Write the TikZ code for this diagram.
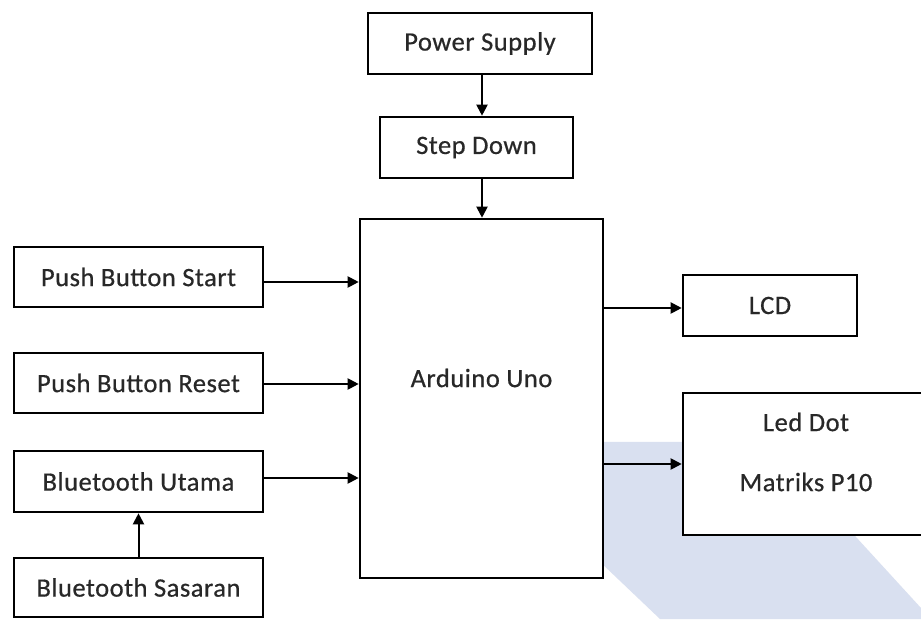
\documentclass[tikz,border=0pt]{standalone}
\usepackage{fontspec}
\setmainfont{Carlito}
\newfontfamily\boxfont{Carlito}[FakeBold=0.6,LetterSpace=2]
\usetikzlibrary{arrows.meta}
\definecolor{wm}{RGB}{217,224,240}
\definecolor{txt}{RGB}{40,40,40}
\begin{document}
\begin{tikzpicture}[x=1pt,y=1pt,
  blk/.style={draw=black,line width=2.6pt,fill=white,rectangle,inner sep=0pt,
    text=txt,font=\boxfont\fontsize{26.5}{30}\selectfont},
  arr/.style={line width=2pt,-{Triangle[length=11pt,width=11pt]}},
  lbl/.style={text=txt,font=\boxfont\fontsize{26.5}{30}\selectfont}]
\useasboundingbox (0,0) rectangle (921,619);
\fill[white] (0,0) rectangle (921,619);
% watermark band
\fill[wm] (474,177) -- (769,177) -- (921,11) -- (921,0) -- (660,0) -- cycle;
% boxes
\node[blk,minimum width=224pt,minimum height=61pt] (ps) at (480,575.5) {Power Supply};
\node[blk,minimum width=193pt,minimum height=61pt] (sd) at (476.5,471.5) {Step Down};
\node[blk,minimum width=243pt,minimum height=359pt,
  label={[lbl,yshift=20.5pt]center:Arduino Uno}] (ard) at (481.5,220.5) {};
\node[blk,minimum width=249pt,minimum height=60pt] (pbs) at (138.5,342) {Push Button Start};
\node[blk,minimum width=249pt,minimum height=60pt] (pbr) at (138.5,236) {Push Button Reset};
\node[blk,minimum width=249pt,minimum height=61pt] (btu) at (138.5,137.5) {Bluetooth Utama};
\node[blk,minimum width=249pt,minimum height=59pt] (bts) at (138.5,31.5) {Bluetooth Sasaran};
\node[blk,minimum width=174pt,minimum height=61pt] (lcd) at (770,313.5) {LCD};
\node[blk,minimum width=246pt,minimum height=142pt,
  label={[lbl,yshift=42pt]center:Led Dot},
  label={[lbl,yshift=-18pt]center:Matriks P10}] (led) at (806,155) {};
% connectors
\coordinate (vx) at (482,0);
\draw[arr] (ps.south -| vx) -- (sd.north -| vx);
\draw[arr] (sd.south -| vx) -- (ard.north -| vx);
\draw[arr] ([yshift=-5pt]pbs.east) -- ([yshift=-5pt]pbs.east -| ard.west);
\draw[arr] ([yshift=-1pt]pbr.east) -- ([yshift=-1pt]pbr.east -| ard.west);
\draw[arr] ([yshift=3.5pt]btu.east) -- ([yshift=3.5pt]btu.east -| ard.west);
\draw[arr] (bts.north) -- (btu.south);
\draw[arr] (lcd.west -| ard.east) ++(0,-2.5) coordinate (l1) (l1) -- (l1 -| lcd.west);
\draw[arr] (led.west -| ard.east) -- (led.west);
\end{tikzpicture}
\end{document}
